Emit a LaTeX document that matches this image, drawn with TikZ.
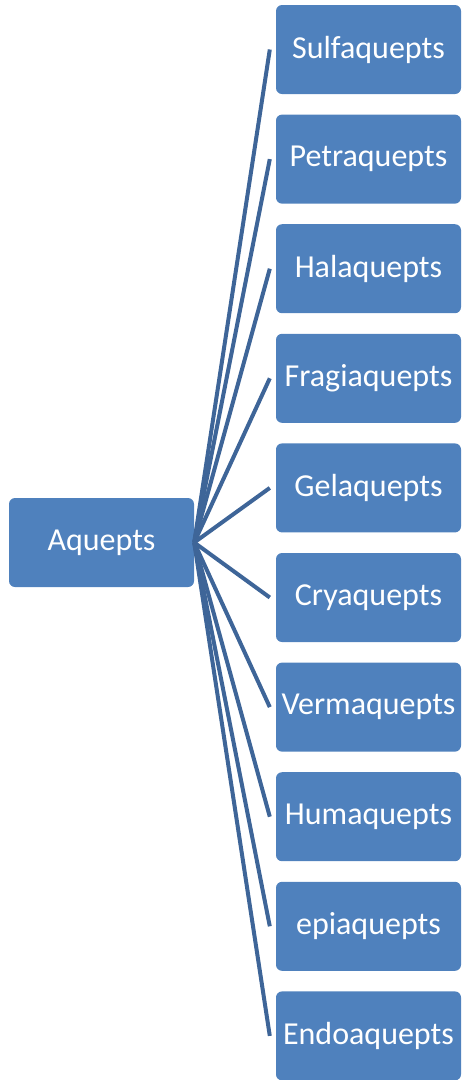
\documentclass[tikz,border=0pt]{standalone}
\usepackage{fontspec}
\setmainfont{Carlito}
\definecolor{boxfill}{HTML}{4F81BD}
\definecolor{linkcol}{HTML}{3E6598}
\tikzset{
  box/.style={draw=none, fill=boxfill, rounded corners=6pt, minimum width=185pt, minimum height=89pt, text=white, font=\fontsize{32}{36}\selectfont, inner sep=0pt, anchor=center},
  link/.style={draw=linkcol, line width=4pt}
}
\begin{document}
\begin{tikzpicture}[x=1pt,y=-1pt]
\useasboundingbox (0,0) rectangle (461,1080);
\node[box] (root) at (101.5,542.5) {Aquepts};
\foreach \name [count=\i from 0] in {Sulfaquepts,Petraquepts,Halaquepts,Fragiaquepts,Gelaquepts,Cryaquepts,Vermaquepts,Humaquepts,epiaquepts,Endoaquepts}{
  \node[box] (c\i) at (368.5,{49.5+109.6*\i}) {\name};
  \coordinate (e\i) at ([xshift=-6pt]c\i.west);
  \draw[link] (root.east) -- (e\i);
}
\end{tikzpicture}
\end{document}
